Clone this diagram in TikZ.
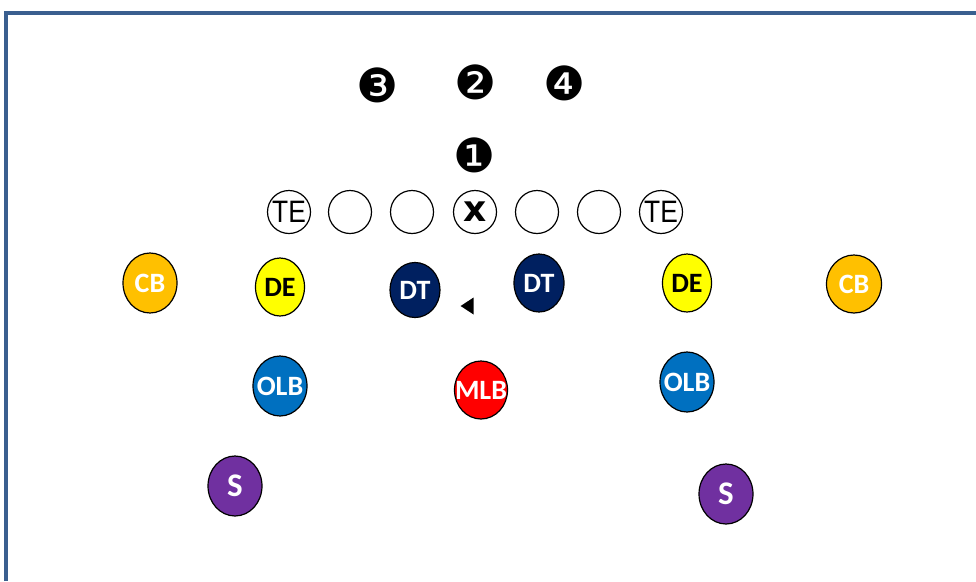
\documentclass[tikz,border=0pt]{standalone}
\usepackage{fontspec}
\setmainfont{Liberation Sans}
\newfontfamily\labfont{Carlito}
\newfontfamily\symfont{DejaVu Sans}
\usetikzlibrary{shapes.geometric}
\definecolor{framec}{HTML}{3A5F8F}
\definecolor{cbc}{HTML}{FFC000}
\definecolor{dec}{HTML}{FFFF00}
\definecolor{dtc}{HTML}{002060}
\definecolor{olbc}{HTML}{0070C0}
\definecolor{mlbc}{HTML}{FF0000}
\definecolor{sc}{HTML}{7030A0}
\newcommand{\plab}[1]{\makebox[0pt]{#1}}
\tikzset{
  player/.style={ellipse, draw=black, line width=1.2pt, inner sep=0pt,
    minimum width=52pt, minimum height=58pt,
    font=\labfont\bfseries\fontsize{28}{28}\selectfont, text=white},
  oline/.style={circle, draw=black, line width=1.2pt, inner sep=0pt, minimum size=43pt},
  num/.style={inner sep=0pt, font=\symfont\fontsize{47}{47}\selectfont},
}
\begin{document}
\begin{tikzpicture}[x=1pt,y=-1pt]
\useasboundingbox (0,0) rectangle (976,581);
\fill[white] (0,0) rectangle (976,581);
\draw[framec, line width=3.5pt, line join=miter] (6,581) -- (6,13) -- (976,13);

% backfield numbers
\node[num] (n3) at (378,85) {❸};
\node[num] (n2) at (476,82) {❷};
\node[num] (n4) at (565,83) {❹};
\node[num] (n1) at (475,155) {❶};

% offensive line
\node[oline, font=\fontsize{31}{31}\selectfont] (te1) at (289,212) {\scalebox{0.85}[1]{TE}};
\node[oline] (g1) at (350,212) {};
\node[oline] (g2) at (412,212) {};
\node[oline, font=\symfont\bfseries\fontsize{36}{36}\selectfont] (c) at (475,212) {\raisebox{-1pt}{x}};
\node[oline] (g3) at (537,212) {};
\node[oline] (g4) at (599,212) {};
\node[oline, font=\fontsize{31}{31}\selectfont] (te2) at (661,212) {\scalebox{0.85}[1]{TE}};

% defense
\node[player, fill=cbc, minimum width=54pt, minimum height=60pt] (cb1) at (150,283) {\plab{CB}};
\node[player, fill=dec, text=black, minimum width=49pt] (de1) at (280,287) {\plab{DE}};
\node[player, fill=dtc, minimum width=50pt, minimum height=55pt] (dt1) at (415,290) {\plab{DT}};
\node[isosceles triangle, shape border rotate=180, fill=black, inner sep=0pt,
  minimum height=13pt, minimum width=17pt, isosceles triangle stretches] (tri) at (469,306) {};
\node[player, fill=dtc, minimum width=50pt, minimum height=58pt] (dt2) at (539,283) {\plab{DT}};
\node[player, fill=dec, text=black, minimum width=49pt] (de2) at (687,283) {\plab{DE}};
\node[player, fill=cbc, minimum width=55pt] (cb2) at (854,284) {\plab{CB}};

\node[player, fill=olbc, minimum width=54pt, minimum height=60pt] (olb1) at (280,386) {\plab{OLB}};
\node[player, fill=mlbc, minimum width=53pt, minimum height=58pt] (mlb) at (481,390) {\plab{MLB}};
\node[player, fill=olbc, minimum width=54pt, minimum height=60pt] (olb2) at (687,382) {\plab{OLB}};

\node[player, fill=sc, minimum width=54pt, minimum height=60pt, font=\labfont\bfseries\fontsize{33}{33}\selectfont] (s1) at (235,486) {\plab{S}};
\node[player, fill=sc, minimum width=54pt, minimum height=60pt, font=\labfont\bfseries\fontsize{33}{33}\selectfont] (s2) at (726,494) {\plab{S}};
\end{tikzpicture}
\end{document}
